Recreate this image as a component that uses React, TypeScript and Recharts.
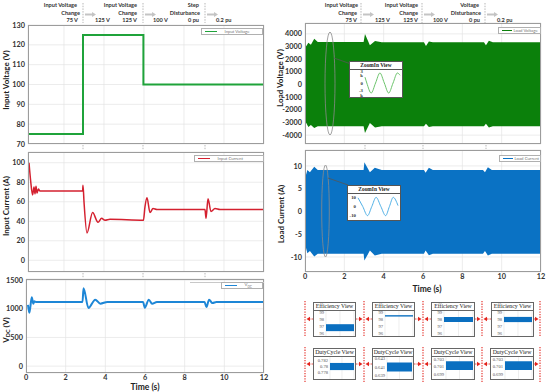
import React from "react";
import { ComposedChart, LineChart, AreaChart, Line, Area, XAxis, YAxis, CartesianGrid } from "recharts";

const FONT = "Lato, 'Liberation Sans', Arial, sans-serif";
const SERIF = "'Liberation Serif', 'DejaVu Serif', serif";

// input voltage (V)
const vinT = [0.2, 2.95, 2.95, 5.97, 5.97, 12];
const vinV = [75, 75, 125, 125, 100, 100];

// input current (A)
const iinT = [0.25, 0.33, 0.43, 0.5, 0.55, 0.6, 0.65, 0.72, 0.8, 2.93, 2.95, 3.0, 3.15, 3.43, 3.7, 3.88, 4.05, 4.3, 5.97, 6.05, 6.15, 6.3, 6.45, 6.65, 9.05, 9.1, 9.2, 9.35, 9.55, 9.8, 12];
const iinV = [100, 82, 67, 75, 68, 76, 69, 73, 71, 71, 77, 60, 28, 49, 39, 43, 41, 42, 41, 55, 64, 49, 53, 52, 52, 43, 63, 50, 53, 52, 52];

// dc link voltage (V)
const vdcT = [0.1, 0.17, 0.29, 0.37, 0.42, 0.5, 2.85, 2.9, 3.15, 3.49, 3.75, 4.1, 5.9, 5.99, 6.19, 6.36, 6.6, 9.0, 9.1, 9.23, 9.4, 9.6, 12];
const vdcV = [1070, 930, 1200, 1090, 1130, 1120, 1120, 1360, 1015, 1160, 1090, 1120, 1120, 1020, 1160, 1090, 1120, 1120, 1030, 1160, 1100, 1120, 1120];

// load voltage envelope (V)
const vloT = [0, 0.05, 0.17, 0.3, 0.47, 0.65, 2.98, 3.05, 3.3, 3.56, 3.9, 6.05, 6.15, 6.3, 6.5, 9.1, 9.2, 9.35, 9.55, 12];
const vloHi = [2800, 3000, 3300, 3150, 3620, 3350, 3350, 4000, 3100, 3430, 3330, 3330, 3050, 3400, 3330, 3330, 3100, 3450, 3330, 3330];
const vloLo = [-2800, -3000, -3360, -3200, -3440, -3300, -3300, -3830, -3040, -3390, -3300, -3300, -3100, -3350, -3300, -3300, -3100, -3400, -3300, -3300];

// load current envelope (A)
const iloT = [0, 0.05, 0.12, 0.25, 0.47, 0.65, 2.98, 3.02, 3.3, 3.55, 3.9, 6.05, 6.13, 6.3, 6.5, 9.05, 9.15, 9.3, 9.5, 12];
const iloHi = [7, 8, 9.1, 8.6, 9.8, 9.1, 9.1, 10.8, 8.6, 9.6, 9.1, 9.1, 8.5, 9.6, 9.1, 9.1, 8.6, 9.7, 9.1, 9.1];
const iloLo = [-7, -8, -9.2, -8.7, -9.9, -9.3, -9.3, -10.8, -8.6, -9.7, -9.3, -9.3, -8.6, -9.6, -9.3, -9.3, -8.7, -9.7, -9.3, -9.3];

// zoom-in views (ms, value)
const zvT = [0, 1.75, 6, 10.25, 14.5, 18.75, 23, 27.25, 31.5, 34];
const zvV = [1800, 0, -3100, 0, 3100, 0, -3100, 0, 3100, 2400];
const ziT = [0, 5, 10, 14.5, 19, 24, 29, 33, 37, 42];
const ziV = [9.5, 0, -10, 0, 10, 0, -10, 0, 10, 1];

// efficiency / duty cycle views
const viewX = [0, 1];
const effBands = [[96.3, 97.3], [98.4, 98.6], [97.6, 98.35], [97.6, 98.35]];
const effTicks = [96, 97, 98, 99];
const dutyBands = [[0.7788, 0.7812], [0.6399, 0.6421], [0.7001, 0.7024], [0.7001, 0.7024]];
const dutyTicks = [[0.778, 0.78, 0.782], [0.639, 0.641, 0.643], [0.699, 0.701, 0.703], [0.699, 0.701, 0.703]];
const dutyDomains = [[0.7758, 0.7832], [0.6381, 0.6434], [0.6977, 0.7035], [0.6977, 0.7035]];

const timeTicks = [0, 2, 4, 6, 8, 10, 12];

const vinData = vinT.map((t, i) => ({ t, v: vinV[i] }));
const iinData = iinT.map((t, i) => ({ t, v: iinV[i] }));
const vdcData = vdcT.map((t, i) => ({ t, v: vdcV[i] }));
const vloData = vloT.map((t, i) => ({ t, env: [vloLo[i], vloHi[i]] }));
const iloData = iloT.map((t, i) => ({ t, env: [iloLo[i], iloHi[i]] }));
const zvData = zvT.map((t, i) => ({ t, v: zvV[i] }));
const ziData = ziT.map((t, i) => ({ t, v: ziV[i] }));

const tick = { fontSize: 7.3, fill: "#333", fontFamily: FONT, fontWeight: 700 };
const tinyTick = { fontSize: 4.6, fill: "#555", fontFamily: SERIF };

const M = 5;

function Panel({ box, data, xDomain, yDomain, yTicks, yW, showX, children }: any) {
  const xH = showX ? 11 : 0;
  return (
    <div style={{ position: "absolute", left: box.x - yW, top: box.y - M }}>
      <ComposedChart width={yW + box.w + 8} height={box.h + 2 * M + xH} data={data} margin={{ top: M, right: 8, bottom: M, left: 0 }}>
        <CartesianGrid stroke="#e4e4e4" strokeWidth={0.7} />
        <XAxis dataKey="t" type="number" domain={xDomain} ticks={timeTicks.filter((v) => v >= xDomain[0])} hide={!showX} height={xH}
          tick={tick} tickLine={false} tickSize={0} axisLine={false} tickMargin={2} interval={0} allowDataOverflow />
        <YAxis type="number" domain={yDomain} ticks={yTicks} width={yW} tick={tick} tickLine={false} tickSize={0} axisLine={false}
          tickMargin={3} interval={0} allowDataOverflow />
        {children}
      </ComposedChart>
      <div style={{ position: "absolute", left: yW, top: M, width: box.w, height: box.h, border: "0.8px solid #9c9c9c", boxSizing: "border-box", pointerEvents: "none" }} />
    </div>
  );
}

function Legend({ x, y, w, color, lw = 12, gap = 8, children }: any) {
  return (
    <div style={{ position: "absolute", left: x, top: y, width: w, height: 7, border: "0.6px solid #b0b0b0", background: "#fff", boxSizing: "border-box", display: "flex", alignItems: "center", fontFamily: FONT, fontSize: 4.3, color: "#777", whiteSpace: "nowrap", overflow: "hidden" }}>
      <div style={{ width: lw, height: 1.6, background: color, marginLeft: 2.5, marginRight: gap, flexShrink: 0 }} />
      <span>{children}</span>
    </div>
  );
}

function ZoomInset({ x, y, w, h, titleH, data, domain, ticks, fmt, color, yW, tDomain }: any) {
  return (
    <div style={{ position: "absolute", left: x, top: y, width: w, height: h, border: "0.9px solid #555", background: "#fff", boxSizing: "border-box", zIndex: 3 }}>
      <div style={{ height: titleH, borderBottom: "0.8px solid #555", boxSizing: "border-box", fontFamily: SERIF, fontWeight: 700, fontSize: 5.4, lineHeight: `${titleH - 1}px`, textAlign: "center", color: "#222" }}>ZoomIn View</div>
      <LineChart width={w - 2} height={h - titleH - 2} data={data} margin={{ top: 2, right: 2, bottom: 3, left: 0 }} style={{ overflow: "visible" }}>
        <XAxis dataKey="t" type="number" domain={tDomain} hide />
        <YAxis type="number" domain={domain} ticks={ticks} width={yW} tickFormatter={fmt} interval={0}
          tick={{ fontSize: 4.8, fill: "#333", fontFamily: SERIF, fontWeight: 700 }} tickLine={false} tickSize={0} axisLine={false} tickMargin={2} />
        <Line dataKey="v" type="monotone" stroke={color} strokeWidth={1} dot={false} isAnimationActive={false} />
      </LineChart>
    </div>
  );
}

function BandView({ x, y, w, h, title, band, domain, ticks, yW }: any) {
  const data = viewX.map((t) => ({ t, b: band }));
  return (
    <div style={{ position: "absolute", left: x, top: y, width: w, height: h, border: "1px solid #666", background: "#fff", boxSizing: "border-box", zIndex: 3 }}>
      <div style={{ height: 8, borderBottom: "0.8px solid #666", boxSizing: "border-box", fontFamily: SERIF, fontSize: 5.8, lineHeight: "7px", textAlign: "center", color: "#222", whiteSpace: "nowrap", overflow: "hidden" }}>{title}</div>
      <AreaChart width={w - 2} height={h - 10} data={data} margin={{ top: 0, right: 1, bottom: 0, left: 0 }}>
        <CartesianGrid horizontal={false} stroke="#e2e2e2" strokeWidth={0.6} />
        <XAxis dataKey="t" type="number" domain={[0, 1]} ticks={[0.5]} hide />
        <YAxis type="number" domain={domain} ticks={ticks} width={yW} interval={0} tick={tinyTick} tickLine={false} tickSize={0} axisLine={false} tickMargin={2} allowDataOverflow />
        <Area dataKey="b" type="linear" stroke="none" fill="#0a6fc0" fillOpacity={1} isAnimationActive={false} />
      </AreaChart>
    </div>
  );
}

const txt = { fontFamily: FONT, fontWeight: 700, fontSize: 5.6, fill: "#333" } as const;

function Annot({ x, lines, after }: any) {
  const ys = [7, 14.5, 21.5];
  return (
    <g>
      {lines.map((l: any, i: number) => (
        <text key={i} x={l[1]} y={ys[i]} textAnchor="end" {...txt}>{l[0]}</text>
      ))}
      <line x1={x} x2={x} y1={3} y2={23} stroke="#999" strokeWidth={0.7} strokeDasharray="1.5 1.2" />
      <line x1={x + 2} x2={x + 9} y1={14.5} y2={14.5} stroke="#c4c4c4" strokeWidth={2} />
      <polygon points={`${x + 9},${12} ${x + 13},${14.5} ${x + 9},${17}`} fill="#c4c4c4" />
      <text x={after[1]} y={21.5} {...txt}>{after[0]}</text>
    </g>
  );
}

function RedArrows({ y, lines, boxes }: any) {
  const head = (tipX: number, dir: number) => (
    <polygon points={`${tipX},${y} ${tipX - dir * 3.5},${y - 2.2} ${tipX - dir * 3.5},${y + 2.2}`} fill="#e3231c" />
  );
  return (
    <g>
      {boxes.map((b: any, i: number) => (
        <g key={i}>
          <line x1={b[0]} x2={lines[i] + 4} y1={y} y2={y} stroke="#e3231c" strokeWidth={0.8} strokeDasharray="1.5 1" />
          {head(lines[i] + 1.5, -1)}
          <line x1={b[1]} x2={lines[i + 1] - 4} y1={y} y2={y} stroke="#e3231c" strokeWidth={0.8} strokeDasharray="1.5 1" />
          {head(lines[i + 1] - 1.5, 1)}
        </g>
      ))}
    </g>
  );
}

export default function App() {
  const redX = [305, 364, 423, 482, 540];
  const row1 = [[313, 356], [372, 415], [431, 475], [491, 534]];
  const row2 = [[313, 356], [372, 414], [431, 475], [490, 534]];
  return (
    <div style={{ position: "absolute", left: 0, top: 0, width: 550, height: 392, background: "#fff", overflow: "hidden" }}>
      <Panel box={{ x: 28, y: 25, w: 236, h: 119 }} data={vinData} xDomain={[0.2, 12]} yDomain={[70, 130]} yTicks={[70, 80, 90, 100, 110, 120, 130]} yW={26}>
        <Line dataKey="v" type="linear" stroke="#1fa33a" strokeWidth={2} dot={false} isAnimationActive={false} />
      </Panel>
      <Panel box={{ x: 28, y: 152, w: 236, h: 120 }} data={iinData} xDomain={[0.2, 12]} yDomain={[-12, 111]} yTicks={[0, 20, 40, 60, 80, 100]} yW={26}>
        <Line dataKey="v" type="monotone" stroke="#d4202f" strokeWidth={1.5} dot={false} isAnimationActive={false} />
      </Panel>
      <Panel box={{ x: 26, y: 279, w: 238, h: 94 }} data={vdcData} xDomain={[0, 12]} yDomain={[-120, 1520]} yTicks={[0, 500, 1000, 1500]} yW={24} showX>
        <Line dataKey="v" type="monotone" stroke="#1d86d6" strokeWidth={2} dot={false} isAnimationActive={false} />
      </Panel>
      <Panel box={{ x: 305, y: 23, w: 236, h: 121 }} data={vloData} xDomain={[0, 12]} yDomain={[-4700, 4860]} yTicks={[-4000, -3000, -2000, -1000, 0, 1000, 2000, 3000, 4000]} yW={30}>
        <Area dataKey="env" type="linear" stroke="none" fill="#0b800b" fillOpacity={1} isAnimationActive={false} />
      </Panel>
      <Panel box={{ x: 305, y: 150, w: 236, h: 122 }} data={iloData} xDomain={[0, 12]} yDomain={[-13.3, 13.5]} yTicks={[-10, -5, 0, 5, 10]} yW={30} showX>
        <Area dataKey="env" type="linear" stroke="none" fill="#0a72c4" fillOpacity={1} isAnimationActive={false} />
      </Panel>

      <Legend x={201} y={28} w={62} color="#1fa33a">Input Voltage</Legend>
      <Legend x={194} y={155} w={70} color="#d4202f">Input Current</Legend>
      <div style={{ position: "absolute", left: 190, top: 281.5, width: 74, height: 0.8, background: "#c8c8c8" }} />
      <Legend x={221} y={282} w={42} color="#1d86d6"><span>V<sub style={{ fontSize: 3.2 }}>DC</sub></span></Legend>
      <Legend x={498} y={27} w={43} color="#0b800b" lw={10} gap={2}>Load Voltage</Legend>
      <Legend x={499} y={155} w={42} color="#0a72c4" lw={10} gap={2}>Load Current</Legend>

      <svg width={550} height={392} style={{ position: "absolute", left: 0, top: 0, zIndex: 2, pointerEvents: "none" }}>
        <Annot x={83} lines={[["Input Voltage", 77], ["Change", 80], ["75 V", 78]]} after={["125 V", 95]} />
        <Annot x={143} lines={[["Input Voltage", 137], ["Change", 137], ["125 V", 137]]} after={["100 V", 153]} />
        <Annot x={205} lines={[["Step", 199], ["Disturbance", 200], ["0 pu", 199]]} after={["0.2 pu", 216]} />
        <Annot x={361} lines={[["Input Voltage", 358], ["Change", 357], ["75 V", 357]]} after={["125 V", 375]} />
        <Annot x={422} lines={[["Input Voltage", 418], ["Change", 418], ["125 V", 418]]} after={["100 V", 433]} />
        <Annot x={485} lines={[["Voltage", 479], ["Disturbance", 481], ["0 pu", 480]]} after={["0.2 pu", 497]} />

        {[83, 143, 205].map((x) => (
          <g key={x}>
            <line x1={x} x2={x} y1={145} y2={150} stroke="#999" strokeWidth={0.7} strokeDasharray="1.5 1.2" />
            <line x1={x} x2={x} y1={273} y2={278} stroke="#999" strokeWidth={0.7} strokeDasharray="1.5 1.2" />
          </g>
        ))}
        {[365, 423, 486].map((x) => (
          <line key={x} x1={x} x2={x} y1={145} y2={149} stroke="#999" strokeWidth={0.7} strokeDasharray="1.5 1.2" />
        ))}

        <text x={7} y={80} transform="rotate(-90 7 80)" textAnchor="middle" dominantBaseline="middle" fontFamily={FONT} fontWeight={700} fontSize={8} fill="#222">Input Voltage (V)</text>
        <text x={7} y={206} transform="rotate(-90 7 206)" textAnchor="middle" dominantBaseline="middle" fontFamily={FONT} fontWeight={700} fontSize={8} fill="#222">Input Current (A)</text>
        <text x={7} y={330} transform="rotate(-90 7 330)" textAnchor="middle" dominantBaseline="middle" fontFamily={FONT} fontWeight={700} fontSize={8} fill="#222">
          <tspan>V</tspan><tspan fontSize={5.5} dy={2}>DC</tspan><tspan dy={-2}> (V)</tspan>
        </text>
        <text x={280.5} y={78} transform="rotate(-90 280.5 78)" textAnchor="middle" dominantBaseline="middle" fontFamily={FONT} fontWeight={700} fontSize={8} fill="#222">Load Voltage (V)</text>
        <text x={281.5} y={214} transform="rotate(-90 281.5 214)" textAnchor="middle" dominantBaseline="middle" fontFamily={FONT} fontWeight={700} fontSize={8} fill="#222">Load Current (A)</text>
        <text x={145} y={390} textAnchor="middle" fontFamily={FONT} fontWeight={700} fontSize={8.5} fill="#222">Time (s)</text>
        <text x={427} y={292} textAnchor="middle" fontFamily={FONT} fontWeight={700} fontSize={8.5} fill="#222">Time (s)</text>

        <ellipse cx={330} cy={83.5} rx={5} ry={51.5} fill="none" stroke="#8a8a8a" strokeWidth={0.8} />
        <line x1={334} y1={58} x2={351} y2={64} stroke="#555" strokeWidth={0.8} />
        <ellipse cx={325.5} cy={211} rx={3.8} ry={46} fill="none" stroke="#8a8a8a" strokeWidth={0.8} />
        <line x1={328} y1={178} x2={348} y2={185} stroke="#555" strokeWidth={0.8} />

        {redX.map((x) => (
          <g key={x}>
            <line x1={x} x2={x} y1={301} y2={337} stroke="#e3231c" strokeWidth={1.1} strokeDasharray="1.3 1.3" />
            <line x1={x} x2={x} y1={347} y2={383} stroke="#e3231c" strokeWidth={1.1} strokeDasharray="1.3 1.3" />
          </g>
        ))}
        <RedArrows y={319} lines={redX} boxes={row1} />
        <RedArrows y={364} lines={redX} boxes={row2} />
      </svg>

      <ZoomInset x={349} y={61} w={54} h={37} titleH={8} data={zvData} tDomain={[0, 34]} domain={[-3400, 3400]} ticks={[-3000, 0, 3000]}
        fmt={(v: number) => (v === 0 ? "0" : `${v / 1000} k`)} color="#6cc46c" yW={15} />
      <ZoomInset x={347} y={185} w={54} h={36} titleH={8} data={ziData} tDomain={[0, 42]} domain={[-11.5, 11.5]} ticks={[-10, 0, 10]}
        fmt={(v: number) => `${v}`} color="#4fb0e6" yW={10} />

      {row1.map((b, i) => (
        <BandView key={"e" + i} x={b[0]} y={302} w={b[1] - b[0]} h={35} title="Efficiency View" band={effBands[i]} domain={[95.6, 99.2]} ticks={effTicks} yW={12} />
      ))}
      {row2.map((b, i) => (
        <BandView key={"d" + i} x={b[0]} y={348} w={b[1] - b[0]} h={32} title="DutyCycle View" band={dutyBands[i]} domain={dutyDomains[i]} ticks={dutyTicks[i]} yW={i === 0 ? 16 : 14} />
      ))}
    </div>
  );
}
